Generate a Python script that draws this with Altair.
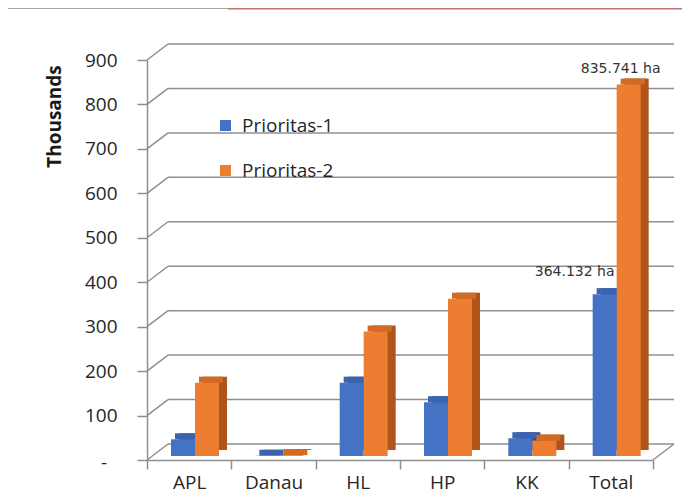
import altair as alt
import pandas as pd

# ---------------- data ----------------
categories = ["APL", "Danau", "HL", "HP", "KK", "Total"]
series_names = ["Prioritas-1", "Prioritas-2"]
prioritas_1 = [37.5, 0.6, 165, 121, 40, 364.132]
prioritas_2 = [165, 2, 280, 354, 34.7, 835.741]
y_ticks = [0, 100, 200, 300, 400, 500, 600, 700, 800, 900]
zero_label = "-"

front_colors = ["#4472C4", "#ED7D31"]
side_colors = ["#2D5092", "#AE5519"]
top_colors = ["#3A63B0", "#D26A24"]

# ---------------- layout constants ----------------
W = 506
H = 400
DX, DY = 21, -16          # back-wall offset
FONT = "Open Sans"
GRID = "#8f8f8f"
TXT = "#262626"

rows = []
for i, c in enumerate(categories):
    for s, vals in zip(series_names, [prioritas_1, prioritas_2]):
        rows.append({"category": c, "series": s, "value": vals[i]})
df = pd.DataFrame(rows)
df["side"] = df["series"].map(dict(zip(series_names, side_colors)))
df["topc"] = df["series"].map(dict(zip(series_names, top_colors)))
df["label"] = df["value"].map(lambda v: f"{v:.3f} ha")

grid_df = pd.DataFrame({"v": y_ticks})
floor_df = pd.DataFrame({"v": [0], "t": [zero_label]})
deco_df = pd.DataFrame({"k": [0]})

x_axis = alt.Axis(title=None, domainColor=GRID, domainWidth=1.5, tickColor=GRID,
                  tickWidth=1.5, tickSize=9, tickBand="extent", labelFont=FONT,
                  labelFontSize=19, labelColor=TXT, labelPadding=4, labelAngle=0)
y_axis = alt.Axis(values=y_ticks, title="Thousands", titleFont=FONT, titleFontSize=19,
                  titleFontWeight="bold", titleColor="#1a1a1a", titleAngle=270,
                  titleX=-93, titleY=56, titleAlign="center", titleBaseline="middle",
                  labelExpr="datum.value == 0 ? '' : datum.label",
                  grid=False, domainColor=GRID, domainWidth=1.5, tickColor=GRID,
                  tickWidth=1.5, tickSize=10, labelPadding=20, labelFont=FONT,
                  labelFontSize=19, labelColor=TXT)

x_enc = alt.X("category:N", sort=categories,
              scale=alt.Scale(paddingInner=0, paddingOuter=0), axis=x_axis)
y_scale = alt.Scale(domain=[0, 900], nice=False)


def yv(field):
    return alt.Y(field, type="quantitative", scale=y_scale, axis=y_axis)


def off(r0):
    return alt.XOffset("series:N", sort=series_names,
                       scale=alt.Scale(domain=series_names, range=[r0, r0 + 48],
                                       paddingInner=0, paddingOuter=0))


# back wall gridlines
grid = alt.Chart(grid_df).mark_rule(color=GRID, strokeWidth=1.5, yOffset=DY).encode(
    y=yv("v"), x=alt.value(DX), x2=alt.value(W + DX))
# diagonal connectors from front axis to back wall
conn = alt.Chart(grid_df).mark_rule(color=GRID, strokeWidth=1.5, y2Offset=DY).encode(
    y=yv("v"), y2=alt.Y2("v"), x=alt.value(0), x2=alt.value(DX))
# right floor diagonal
floor = alt.Chart(floor_df).mark_rule(color=GRID, strokeWidth=1.5, y2Offset=DY).encode(
    y=yv("v"), y2=alt.Y2("v"), x=alt.value(W), x2=alt.value(W + DX))
# zero tick label ("-")
zero = alt.Chart(floor_df).mark_text(font=FONT, fontSize=19, color=TXT, dy=3).encode(
    y=yv("v"), x=alt.value(-43), text="t:N")

side = alt.Chart(df).mark_bar(yOffset=-4 - 6).encode(
    x=x_enc, xOffset=off(32), y=yv("value"),
    color=alt.Color("side:N", scale=None))
top = alt.Chart(df).mark_bar(yOffset=-4 - 6, y2Offset=-4).encode(
    x=x_enc, xOffset=off(28), y=yv("value"), y2=alt.Y2("value"),
    color=alt.Color("topc:N", scale=None))
front = alt.Chart(df).mark_bar(yOffset=-4).encode(
    x=x_enc, xOffset=off(24), y=yv("value"),
    color=alt.Color("series:N", sort=series_names,
                    scale=alt.Scale(domain=series_names, range=front_colors),
                    legend=alt.Legend(title=None, orient="none", legendX=69, legendY=56,
                                      symbolType="square", symbolSize=121,
                                      symbolStrokeWidth=0, labelFont=FONT,
                                      labelFontSize=19, labelColor=TXT,
                                      labelOffset=7, rowPadding=25, padding=0)))

lab_df = df[df["category"] == "Total"]
lab1 = alt.Chart(lab_df[lab_df["series"] == series_names[0]]).mark_text(
    dx=-18, dy=-26, font="DejaVu Sans", fontSize=14, color="#333333").encode(
    x=x_enc, xOffset=off(24), y=yv("value"), text="label:N")
lab2 = alt.Chart(lab_df[lab_df["series"] == series_names[1]]).mark_text(
    dx=-20, dy=-20, font="DejaVu Sans", fontSize=14, color="#333333").encode(
    x=x_enc, xOffset=off(24), y=yv("value"), text="label:N")

deco1 = alt.Chart(deco_df).mark_rule(color="#8a8a8a", strokeWidth=1.5).encode(
    x=alt.value(-139), x2=alt.value(81), y=alt.value(-52))
deco2 = alt.Chart(deco_df).mark_rule(color="#c07373", strokeWidth=3).encode(
    x=alt.value(81), x2=alt.value(W + 29), y=alt.value(-52))

chart = alt.layer(grid, conn, floor, zero, side, top, front, lab1, lab2, deco1, deco2).resolve_scale(
    xOffset="independent"
).properties(
    width=W, height=H,
    autosize=alt.AutoSizeParams(type="none"),
    padding={"left": 139, "top": 52, "right": 29, "bottom": 33},
    background="white",
).configure_view(stroke=None)

chart.save("out.html", embed_options={"renderer": "svg", "actions": False})
